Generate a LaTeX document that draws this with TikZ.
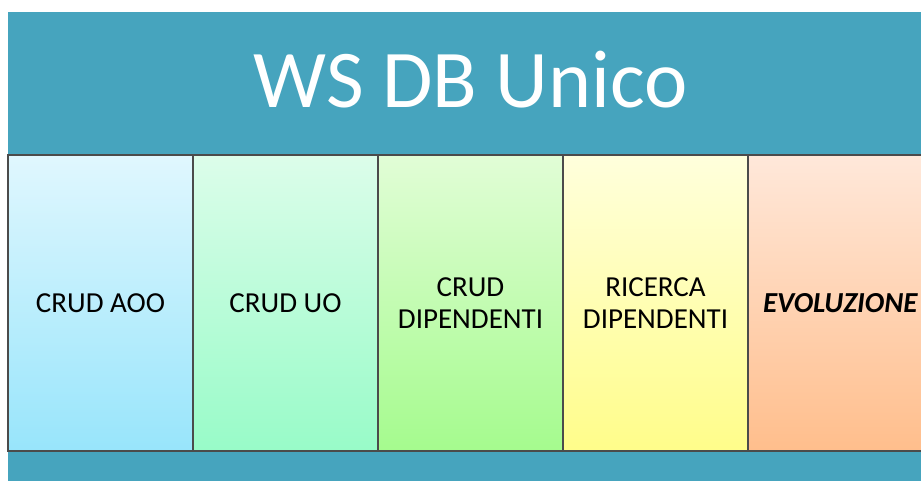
\documentclass[tikz,border=0pt]{standalone}
\usepackage{fontspec}
\setmainfont{Carlito}
\usepackage{tikz}
\usetikzlibrary{shadows}
\definecolor{wsteal}{RGB}{70,164,190}
\definecolor{colborder}{RGB}{75,75,75}
\definecolor{aootop}{RGB}{224,247,254}
\definecolor{aoobot}{RGB}{152,229,251}
\definecolor{uotop}{RGB}{220,253,234}
\definecolor{uobot}{RGB}{152,251,200}
\definecolor{diptop}{RGB}{225,253,214}
\definecolor{dipbot}{RGB}{165,251,142}
\definecolor{rictop}{RGB}{255,255,220}
\definecolor{ricbot}{RGB}{255,253,138}
\definecolor{evotop}{RGB}{255,232,218}
\definecolor{evobot}{RGB}{255,190,140}
\tikzstyle{band}=[fill=wsteal, draw=none]
\tikzstyle{title}=[text=white, inner sep=0, font=\fontsize{82}{90}\selectfont]
\tikzstyle{column}=[draw=colborder, line width=1.2pt, inner sep=0, outer sep=0,
                    minimum width=185pt, minimum height=296pt, align=center,
                    drop shadow={shadow xshift=1.2pt, shadow yshift=-1pt, opacity=0.35},
                    font=\fontsize{29}{32}\selectfont]

\begin{document}
\begin{tikzpicture}[x=1pt, y=-1pt]
        \useasboundingbox (0, 0) rectangle (921, 481);
        % Background band behind the title and the columns.
        \path[band] (8, 12) rectangle (933, 481);
        \node[title, anchor=base]                           (T)  at (470.5, 108) {WS DB Unico};
        \node[column, top color=aootop, bottom color=aoobot] (C1) at (100.5, 303) {CRUD AOO};
        \node[column, top color=uotop, bottom color=uobot]   (C2) at (285.5, 303) {CRUD UO};
        \node[column, top color=diptop, bottom color=dipbot] (C3) at (470.5, 303) {CRUD\\DIPENDENTI};
        \node[column, top color=rictop, bottom color=ricbot] (C4) at (655.5, 303) {RICERCA\\DIPENDENTI};
        \node[column, top color=evotop, bottom color=evobot] (C5) at (840.5, 303) {\textbf{\textit{EVOLUZIONE}}};
    \end{tikzpicture}
\end{document}
